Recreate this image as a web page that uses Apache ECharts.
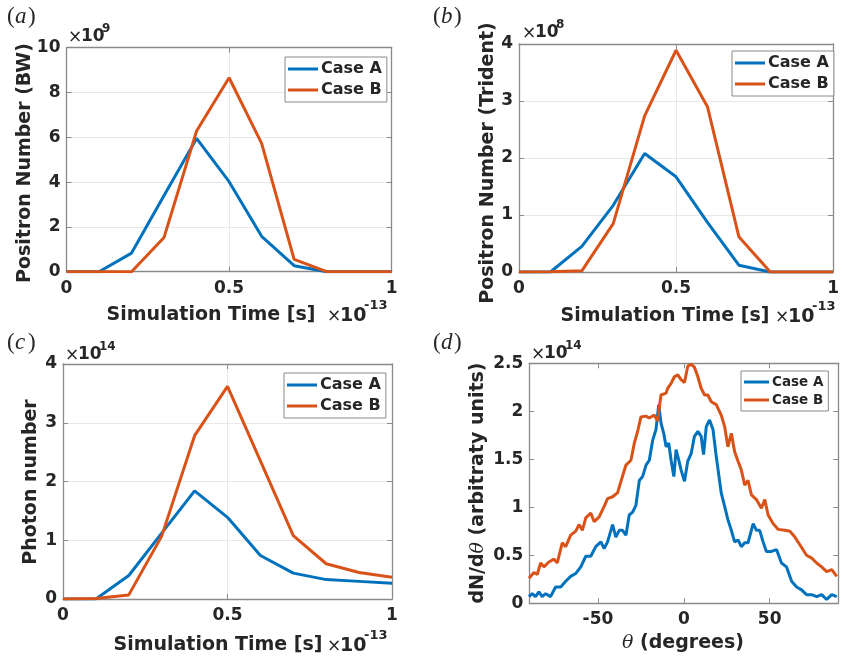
<!DOCTYPE html>
<html>
<head>
<meta charset="utf-8">
<script src="https://cdn.jsdelivr.net/npm/echarts@6/dist/echarts.min.js"></script>
<style>
html,body{margin:0;padding:0;background:#fff;}
#main{width:842px;height:659px;}
</style>
</head>
<body>
<div id="main"></div>
<script>
// ---------- data ----------
const time = [0, 0.1, 0.2, 0.3, 0.4, 0.5, 0.6, 0.7, 0.8, 0.9, 1.0]; // x10^-13 s
const bwA = [0, 0, 0.83, 3.4, 5.95, 4.02, 1.58, 0.27, 0, 0, 0];      // x10^9
const bwB = [0, 0, 0, 1.53, 6.28, 8.66, 5.73, 0.55, 0, 0, 0];
const triA = [0, 0, 0.45, 1.17, 2.08, 1.67, 0.87, 0.12, 0, 0, 0];    // x10^8
const triB = [0, 0.005, 0.02, 0.85, 2.74, 3.89, 2.9, 0.62, 0, 0, 0];
const phA = [0, 0, 0.4, 1.12, 1.84, 1.39, 0.74, 0.44, 0.33, 0.3, 0.27]; // x10^14
const phB = [0, 0.01, 0.07, 1.07, 2.78, 3.62, 2.35, 1.08, 0.6, 0.45, 0.37];

const thetaA = [-90.2,-88.3,-86.4,-84.4,-82.5,-80.5,-77.6,-74.7,-71.7,-68.8,-65.9,-63.0,-60.0,-57.1,-54.2,-51.3,-48.3,-46.4,-44.4,-41.5,-39.6,-37.6,-35.7,-33.7,-31.8,-29.8,-27.9,-25.9,-24.0,-22.0,-20.1,-18.1,-16.2,-14.6,-13.3,-11.7,-10.3,-8.8,-7.4,-5.8,-4.5,-2.9,-1.6,0.4,2.3,4.3,6.2,8.2,10.1,11.5,13.1,15.0,17.0,18.9,21.8,23.8,25.7,27.7,29.6,31.6,33.5,35.5,37.4,40.4,42.3,44.2,46.2,48.1,51.1,54.0,56.9,59.8,62.8,65.7,68.6,71.5,74.5,77.4,80.3,83.2,86.2,89.1];
const dndA = [0.07,0.10,0.07,0.12,0.07,0.10,0.07,0.17,0.17,0.23,0.28,0.31,0.38,0.49,0.49,0.59,0.64,0.57,0.64,0.82,0.69,0.76,0.76,0.71,0.92,0.95,1.02,1.28,1.32,1.44,1.49,1.70,1.81,2.07,1.88,1.77,1.63,1.67,1.49,1.32,1.60,1.49,1.39,1.27,1.48,1.56,1.74,1.79,1.74,1.55,1.84,1.91,1.81,1.53,1.15,1.01,0.87,0.76,0.64,0.66,0.59,0.63,0.63,0.83,0.76,0.76,0.64,0.54,0.54,0.56,0.42,0.38,0.23,0.17,0.14,0.09,0.09,0.07,0.09,0.04,0.09,0.07];
const thetaB = [-90.2,-87.3,-85.4,-83.4,-81.5,-78.6,-75.6,-73.7,-70.8,-68.8,-65.9,-63.0,-61.0,-59.1,-57.1,-54.2,-52.2,-49.3,-46.4,-44.4,-41.5,-38.6,-36.6,-33.7,-30.8,-28.8,-26.9,-25.0,-22.0,-20.1,-17.2,-15.2,-13.3,-10.3,-9.4,-7.4,-5.5,-3.5,-1.6,0.4,2.3,4.3,6.2,8.2,10.1,12.1,14.0,16.0,18.9,21.8,23.8,25.7,27.7,29.6,31.6,33.5,35.5,37.4,39.4,42.3,45.2,47.2,49.1,52.0,55.0,58.9,61.8,64.7,67.6,71.5,74.5,77.4,80.3,83.2,86.2,89.1];
const dndB = [0.26,0.32,0.30,0.42,0.38,0.43,0.46,0.42,0.63,0.59,0.71,0.75,0.82,0.76,0.89,0.94,0.85,0.90,1.01,1.09,1.11,1.15,1.27,1.44,1.49,1.67,1.79,1.94,1.95,1.93,1.96,1.90,2.17,2.19,2.24,2.29,2.36,2.38,2.33,2.30,2.47,2.49,2.46,2.36,2.24,2.17,2.17,2.10,2.07,1.96,1.84,1.63,1.77,1.58,1.48,1.39,1.23,1.28,1.13,1.08,0.99,1.08,0.92,0.83,0.77,0.76,0.75,0.69,0.61,0.50,0.47,0.42,0.38,0.33,0.35,0.28];

const seriesNames = ['Case A', 'Case B'];
const colA = '#0072BD', colB = '#D95319';

// ---------- layout ----------
const FONT = '"DejaVu Sans"';
const grids = [
  {left: 66.5, top: 47.7, width: 325.2, height: 224},
  {left: 519, top: 44, width: 320, height: 228},
  {left: 63, top: 364, width: 329, height: 235},
  {left: 529.3, top: 363.3, width: 309, height: 240}
];
const xr = [
  {min: 0, max: 1, interval: 0.5},
  {min: 0, max: 1, interval: 0.5},
  {min: 0, max: 1, interval: 0.5},
  {min: -90, max: 90, custom: [-50, 0, 50]}
];
const yr = [
  {min: 0, max: 10, interval: 2},
  {min: 0, max: 4, interval: 1},
  {min: 0, max: 4, interval: 1},
  {min: 0, max: 2.5, interval: 0.5}
];
const gridOn = [true, true, true, false];
const axColor = '#8a8a8a';
const txtColor = '#262626';

function xAxisFor(i, top) {
  const r = xr[i];
  const ax = {
    type: 'value', gridIndex: i, min: r.min, max: r.max, position: top ? 'top' : 'bottom',
    axisLine: {show: true, onZero: false, lineStyle: {color: axColor, width: 1.3}},
    axisTick: {show: true, inside: true, length: 5, lineStyle: {color: axColor, width: 1}},
    axisLabel: {show: !top, color: txtColor, fontFamily: FONT, fontWeight: 'bold', fontSize: 17, margin: 8,
      formatter: v => String(v)},
    splitLine: {show: !top && gridOn[i], lineStyle: {color: '#e8e8e8', width: 1}}
  };
  if (r.custom) {
    ax.axisTick.customValues = r.custom;
    ax.axisLabel.customValues = r.custom;
  } else {
    ax.interval = r.interval;
  }
  return ax;
}
function yAxisFor(i, right) {
  const r = yr[i];
  return {
    type: 'value', gridIndex: i, min: r.min, max: r.max, interval: r.interval, position: right ? 'right' : 'left',
    axisLine: {show: true, onZero: false, lineStyle: {color: axColor, width: 1.3}},
    axisTick: {show: true, inside: true, length: 5, lineStyle: {color: axColor, width: 1}},
    axisLabel: {show: !right, color: txtColor, fontFamily: FONT, fontWeight: 'bold', fontSize: 17, margin: 6,
      formatter: v => String(v)},
    splitLine: {show: !right && gridOn[i], lineStyle: {color: '#e8e8e8', width: 1}}
  };
}

const xAxes = [], yAxes = [];
for (let i = 0; i < 4; i++) { xAxes.push(xAxisFor(i, false)); yAxes.push(yAxisFor(i, false)); }
for (let i = 0; i < 4; i++) { xAxes.push(xAxisFor(i, true)); yAxes.push(yAxisFor(i, true)); }

function pairs(xs, ys) { return xs.map((x, k) => [x, ys[k]]); }
function line(name, color, i, data) {
  return {
    type: 'line', name: name, xAxisIndex: i, yAxisIndex: i, data: data,
    showSymbol: false, symbol: 'none', smooth: false,
    lineStyle: {color: color, width: 3}, itemStyle: {color: color},
    animation: false, z: 5
  };
}
const series = [
  line(seriesNames[0], colA, 0, pairs(time, bwA)),
  line(seriesNames[1], colB, 0, pairs(time, bwB)),
  line(seriesNames[0], colA, 1, pairs(time, triA)),
  line(seriesNames[1], colB, 1, pairs(time, triB)),
  line(seriesNames[0], colA, 2, pairs(time, phA)),
  line(seriesNames[1], colB, 2, pairs(time, phB)),
  line(seriesNames[0], colA, 3, pairs(thetaA, dndA)),
  line(seriesNames[1], colB, 3, pairs(thetaB, dndB))
];

function legendAt(left, top, fs, iw, gap) {
  return {
    left: left, top: top, orient: 'vertical', data: seriesNames,
    icon: 'rect', itemWidth: iw, itemHeight: 3, itemGap: gap,
    padding: [4, 5, 4, 3], borderColor: '#8a8a8a', borderWidth: 1, backgroundColor: '#fff',
    textStyle: {fontFamily: FONT, fontWeight: 'bold', fontSize: fs, color: txtColor, padding: [0, 0, 0, -2]},
    selectedMode: false, z: 10
  };
}
const legends = [
  legendAt(285, 57, 16, 30, 5),
  legendAt(732, 51, 16, 30, 5),
  legendAt(284, 373, 16, 30, 5),
  legendAt(741, 371, 13.5, 25, 4)
];

// ---------- text decorations ----------
const G = [];
function txt(x, y, text, opt) {
  G.push({type: 'text', x: x, y: y, z: 20, style: Object.assign({
    text: text, fill: txtColor, fontFamily: FONT, fontWeight: 'bold', fontSize: 19,
    textAlign: 'left', textVerticalAlign: 'middle'}, opt || {})});
}
function vtxt(x, y, text, fs) {
  G.push({type: 'text', x: x, y: y, rotation: Math.PI / 2, z: 20, style: {
    text: text, fill: txtColor, fontFamily: FONT, fontWeight: 'bold', fontSize: fs,
    textAlign: 'center', textVerticalAlign: 'middle'}});
}
function times10(x, y, exp) {
  txt(x, y + 1, '×', {fontWeight: 'normal', fontSize: 17});
  txt(x + 13, y, '10', {fontSize: 17});
  txt(x + 34, y - 8, exp, {fontSize: 12});
}
function panelLetter(x, y, ch) {
  txt(x, y, '(', {fontFamily: '"Liberation Serif"', fontWeight: 'normal', fontSize: 23});
  txt(x + 8, y, ch, {fontFamily: '"Liberation Serif"', fontWeight: 'normal', fontStyle: 'italic', fontSize: 23});
  txt(x + 21, y, ')', {fontFamily: '"Liberation Serif"', fontWeight: 'normal', fontSize: 23});
}
panelLetter(7, 17, 'a');
panelLetter(433, 17, 'b');
panelLetter(7, 343, 'c');
panelLetter(433, 343, 'd');

// y-exponents
times10(68, 37, '9');
times10(522, 33, '8');
times10(65, 355, '14');
times10(531, 354, '14');

// y labels
vtxt(25, 163, 'Positron Number (BW)', 19);
vtxt(488, 163, 'Positron Number (Trident)', 19);
vtxt(31, 482, 'Photon number', 19);

G.push({type: 'text', x: 478, y: 483, rotation: Math.PI / 2, z: 20, style: {
  text: '{b|dN/d}{t|θ}{b| (arbitraty units)}', textAlign: 'center', textVerticalAlign: 'middle',
  rich: {
    b: {fontFamily: FONT, fontWeight: 'bold', fontSize: 19, fill: txtColor, color: txtColor},
    t: {fontFamily: '"DejaVu Serif"', fontStyle: 'italic', fontWeight: 'normal', fontSize: 19, fill: txtColor, color: txtColor}
  }}});

// x labels
txt(211, 315, 'Simulation Time [s]', {textAlign: 'center'});
txt(665, 316, 'Simulation Time [s]', {textAlign: 'center'});
txt(218, 645, 'Simulation Time [s]', {textAlign: 'center'});
function times10m13(x, y) {
  txt(x, y + 1, '×', {fontWeight: 'normal', fontSize: 17});
  txt(x + 13, y, '10', {fontSize: 19});
  txt(x + 37, y - 10, '-13', {fontSize: 13});
}
times10m13(327, 316);
times10m13(775, 317);
times10m13(327, 646);

G.push({type: 'text', x: 683, y: 643, z: 20, style: {
  text: '{t|θ}{b| (degrees)}', textAlign: 'center', textVerticalAlign: 'middle',
  rich: {
    b: {fontFamily: FONT, fontWeight: 'bold', fontSize: 19, fill: txtColor, color: txtColor},
    t: {fontFamily: '"DejaVu Serif"', fontStyle: 'italic', fontWeight: 'normal', fontSize: 19, fill: txtColor, color: txtColor}
  }}});

// ---------- chart ----------
const chart = echarts.init(document.getElementById('main'), null, {renderer: 'canvas'});
chart.setOption({
  backgroundColor: '#ffffff',
  animation: false,
  grid: grids,
  xAxis: xAxes,
  yAxis: yAxes,
  legend: legends,
  series: series,
  graphic: G
});
</script>
</body>
</html>
